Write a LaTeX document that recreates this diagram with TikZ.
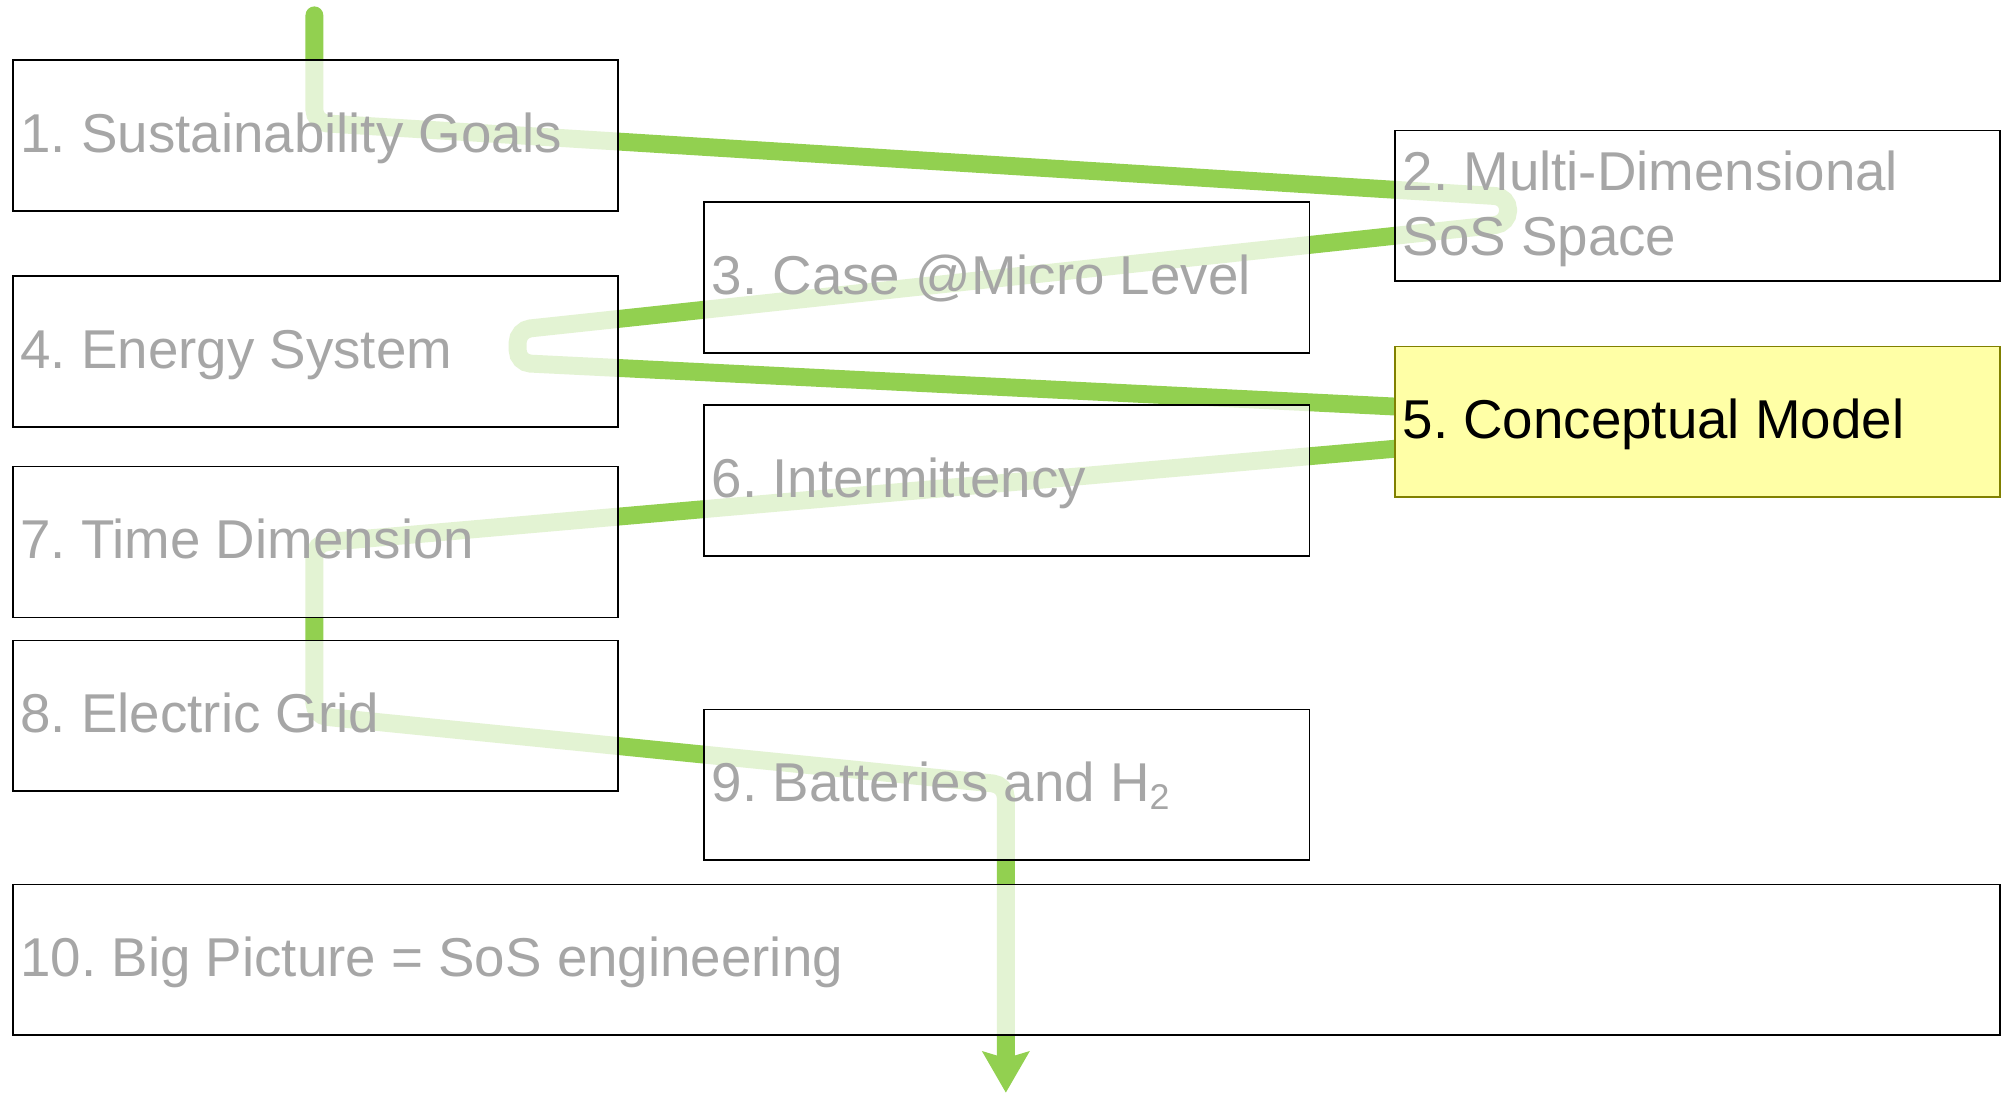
\documentclass[tikz,border=0pt]{standalone}
\usepackage{fontspec}
\setmainfont{Liberation Sans}
\usetikzlibrary{arrows.meta}
\definecolor{flow}{HTML}{92D050}
\definecolor{labelgray}{HTML}{A6A6A6}
\definecolor{hlfill}{HTML}{FFFFA6}
\definecolor{hlborder}{HTML}{808000}
\frenchspacing
\begin{document}
\begin{tikzpicture}[x=1pt,y=-1pt,
  stagebox/.style={draw=black, line width=1.2pt, fill=white, fill opacity=0.75,
    draw opacity=1, rectangle, inner sep=0pt, outer sep=0pt, anchor=north west,
    minimum width=473.5pt, minimum height=118pt},
  hlbox/.style={stagebox, fill=hlfill, fill opacity=1, draw=hlborder},
  stagelabel/.style={anchor=base west, inner sep=0pt, outer sep=0pt,
    text=labelgray, font=\fontsize{42.8}{51.4}\selectfont},
  flowline/.style={draw=flow, line width=14pt, line cap=round,
    rounded corners=10pt, -{Stealth[length=32pt, width=36pt, inset=5pt]}}]

\useasboundingbox (0,0) rectangle (1568,856);

% route of the storyline, drawn underneath the boxes
\coordinate (start) at (246,12);
\coordinate (finish) at (787,855);
\path[flowline] (start) -- (246,96) -- (1180,154) -- (1180,175)
  -- (405,258) -- (405,284) -- (1150,321) -- (1150,346)
  -- (246,425) -- (246,560) -- (787,614) -- (finish);

% stage boxes
\node[stagebox] (b1) at (10,47) {};
\node[stagebox] (b2) at (1091.5,102) {};
\node[stagebox] (b3) at (551,158) {};
\node[stagebox] (b4) at (10,216) {};
\node[hlbox]    (b5) at (1091.5,271) {};
\node[stagebox] (b6) at (551,317) {};
\node[stagebox] (b7) at (10,365) {};
\node[stagebox] (b8) at (10,501) {};
\node[stagebox] (b9) at (551,555) {};
\node[stagebox, minimum width=1555pt] (b10) at (10,692) {};

% stage titles
\tikzset{lblpos/.style={xshift=6pt,yshift=-13.3pt}}
\node[stagelabel] (t1) at ([lblpos]b1.west) {1. Sustainability Goals};
\node[stagelabel] (t2a) at ([xshift=6pt,yshift=12.3pt]b2.west) {2. Multi-Dimensional};
\node[stagelabel] (t2b) at ([xshift=6pt,yshift=-38.9pt]b2.west) {SoS Space};
\node[stagelabel] (t3) at ([lblpos]b3.west) {3. Case @Micro Level};
\node[stagelabel] (t4) at ([lblpos]b4.west) {4. Energy System};
\node[stagelabel, text=black] (t5) at ([lblpos]b5.west) {5. Conceptual Model};
\node[stagelabel] (t6) at ([lblpos]b6.west) {6. Intermittency};
\node[stagelabel] (t7) at ([lblpos]b7.west) {7. Time Dimension};
\node[stagelabel] (t8) at ([lblpos]b8.west) {8. Electric Grid};
\node[stagelabel] (t9) at ([lblpos]b9.west) {9. Batteries and H\raisebox{-6pt}{\fontsize{28}{28}\selectfont 2}};
\node[stagelabel] (t10) at ([lblpos]b10.west) {10. Big Picture = SoS engineering};
\end{tikzpicture}
\end{document}
